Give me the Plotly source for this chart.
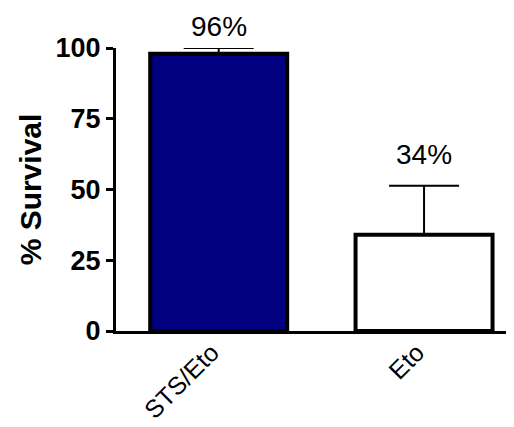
import plotly.graph_objects as go

categories = ["STS/Eto", "Eto"]
survival = [98, 34]
err_plus = [2, 17.3]
labels = ["96%", "34%"]
bar_colors = ["#000080", "#ffffff"]
y_ticks = [0, 25, 50, 75, 100]

FONT = "Liberation Sans, Arial, sans-serif"

fig = go.Figure()
fig.add_trace(go.Bar(
    x=categories, y=survival,
    width=0.667,
    marker=dict(color=bar_colors, line=dict(color="black", width=4)),
    error_y=dict(type="data", symmetric=False, array=err_plus,
                 arrayminus=[0, 0], color="black", thickness=2, width=35),
    cliponaxis=False,
    showlegend=False,
))

for i, (c, lab) in enumerate(zip(categories, labels)):
    fig.add_annotation(
        x=c, y=survival[i] + err_plus[i], xref="x", yref="y",
        text=lab, showarrow=False, yanchor="bottom",
        yshift=[4, 14][i],
        font=dict(family=FONT, size=28, color="black"),
    )

fig.update_layout(
    width=506, height=419,
    margin=dict(l=108, r=0, t=40, b=96, autoexpand=False),
    plot_bgcolor="white", paper_bgcolor="white",
)
fig.update_xaxes(
    range=[-0.5, 1.438], automargin=False,
    showline=True, linecolor="black", linewidth=3,
    ticks="", tickangle=-45,
    ticklabelshift=-7, ticklabelstandoff=-6,
    tickfont=dict(family=FONT, size=25, color="black"),
    showgrid=False, zeroline=False,
)
fig.update_yaxes(
    range=[0, 100], automargin=False,
    tickvals=y_ticks,
    showline=True, linecolor="black", linewidth=3,
    ticks="outside", ticklen=7, tickwidth=3, tickcolor="black",
    tickfont=dict(family=FONT, size=27, color="black", weight="bold"),
    title=dict(text="% Survival", font=dict(family=FONT, size=30, color="black", weight="bold"), standoff=6),
    showgrid=False, zeroline=False,
)

fig.write_html("out.html")
